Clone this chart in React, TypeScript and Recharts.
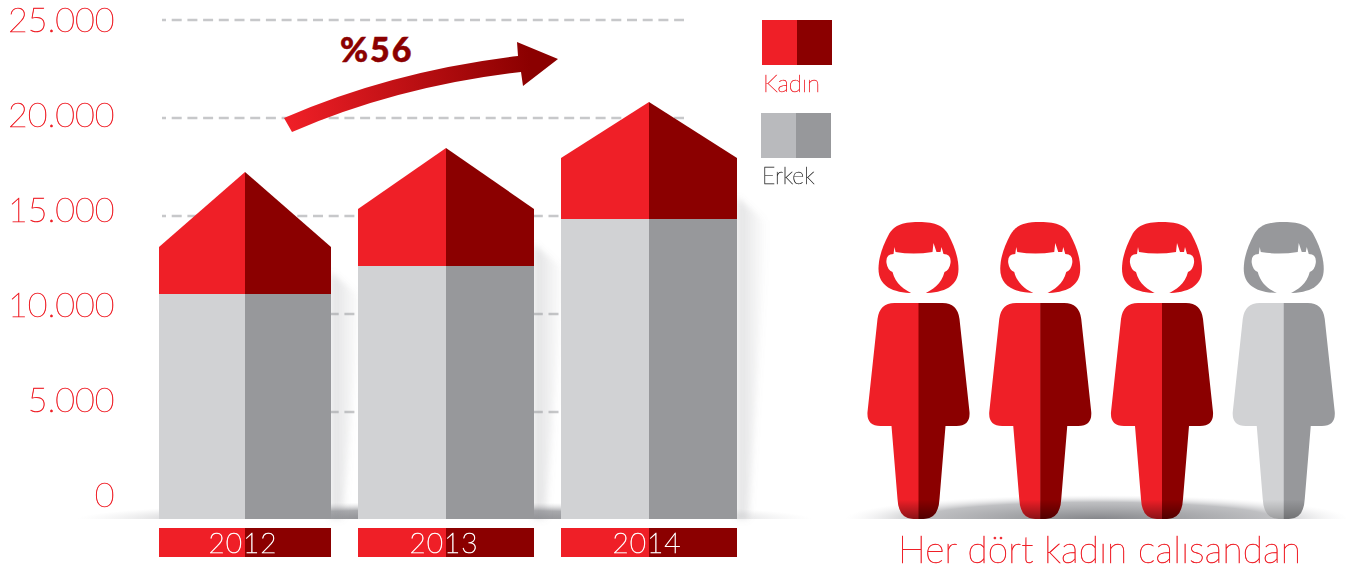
import React from "react";
import { ComposedChart, BarChart, Bar, XAxis, YAxis, CartesianGrid, Legend, Customized } from "recharts";

const years = ["2012", "2013", "2014"];
const erkekValues = [11020, 12450, 14850];
const kadinValues = [6225, 6020, 5970];
const catiValues = [3830, 3110, 2860];
const yTicks = [0, 5000, 10000, 15000, 20000, 25000];
const gridValues = [5000, 10000, 15000, 20000, 25000];
const yTickLabels = ["0", "5.000", "10.000", "15.000", "20.000", "25.000"];
const figureGenders = ["Kadın", "Kadın", "Kadın", "Erkek"];
const figureValues = [1, 1, 1, 1];
const legendNames = ["Kadın", "Erkek"];
const growthLabel = "%56";
const caption = "Her dört kadın calısandan";

const table = years.map((year, i) => ({ year, erkek: erkekValues[i], kadin: kadinValues[i], cati: catiValues[i] }));
const figures = figureGenders.map((gender, i) => ({ id: String(i), gender, value: figureValues[i] }));

const RED = "#EF1F27";
const DARK = "#8B0000";
const LIGHT = "#D1D2D4";
const GRAY = "#97989B";
const FONT = "Lato, sans-serif";
const W = 1346;
const H = 565;
const GRAYSCALE_AA = { opacity: 0.999 };
const tweak = [{ inset: 2, dx: 0 }, { inset: 0, dx: -1 }, { inset: 0, dx: 0 }];

const geom = (p: any) => {
  const t = tweak[p.index] || { inset: 0, dx: 0 };
  const cx = p.x + p.width / 2 + t.dx;
  const half = p.width / 2 - t.inset;
  return { cx, l: cx - half, r: cx + half };
};

const ErkekShape = (p: any) => {
  const { cx, l, r } = geom(p);
  const bottom = p.background ? p.background.y + p.background.height : p.y + p.height + 9;
  return (
    <g>
      <path
        d={`M${r},${p.y - 22} L${r + 30},${p.y + 4} L${r + 12},${bottom} L${r},${bottom} Z`}
        fill="url(#barShadow)"
        filter="url(#blur3)"
      />
      <rect x={l} y={p.y} width={cx - l} height={bottom - p.y} fill={LIGHT} />
      <rect x={cx} y={p.y} width={r - cx} height={bottom - p.y} fill={GRAY} />
    </g>
  );
};

const KadinShape = (p: any) => {
  const { cx, l, r } = geom(p);
  const bottom = p.y + p.height;
  const shoulder = p.y + (p.height * p.payload.cati) / p.payload.kadin;
  return (
    <g>
      <path d={`M${l},${bottom} L${l},${shoulder} L${cx},${p.y} L${cx},${bottom} Z`} fill={RED} />
      <path d={`M${cx},${bottom} L${cx},${p.y} L${r},${shoulder} L${r},${bottom} Z`} fill={DARK} />
    </g>
  );
};

const YearTick = (p: any) => {
  const { cx, l, r } = geom({ x: p.x - 88, width: 176, index: p.index });
  return (
    <g>
      <rect x={l} y={p.y} width={cx - l} height={29} fill={RED} />
      <rect x={cx} y={p.y} width={r - cx} height={29} fill={DARK} />
      <text x={cx - 2} y={p.y + 25} textAnchor="middle" fill="#fff" stroke="#fff" strokeWidth={0.7} fontFamily={FONT} fontWeight={100} fontSize={28} letterSpacing={1} style={GRAYSCALE_AA}>
        {p.payload.value}
      </text>
    </g>
  );
};

const ValueTick = (p: any) => {
  const i = yTicks.indexOf(p.payload.value);
  const labelY = 20 + ((p.y - 20) * 95) / 98;
  return (
    <text x={114.5} y={labelY + 12} textAnchor="end" fill={RED} stroke={RED} strokeWidth={0.55} fontFamily={FONT} fontWeight={100} fontSize={34} style={GRAYSCALE_AA}>
      {yTickLabels[i]}
    </text>
  );
};

const GridDash = (p: any) => (
  <line
    key={p.key}
    x1={162}
    x2={684}
    y1={p.y1}
    y2={p.y2}
    stroke="#C7C8CA"
    strokeWidth={2.5}
    strokeDasharray="10 5.7"
    strokeDashoffset={6}
  />
);

const Defs = () => (
  <defs>
    <linearGradient id="barShadow" x1="0" y1="0" x2="1" y2="0">
      <stop offset="0" stopColor="#8c8d91" stopOpacity={0.26} />
      <stop offset="1" stopColor="#8c8d91" stopOpacity={0} />
    </linearGradient>
    <filter id="blur3" x="-50%" y="-10%" width="200%" height="120%">
      <feGaussianBlur stdDeviation="3" />
    </filter>
    <linearGradient id="arrowGrad" gradientUnits="userSpaceOnUse" x1="285" y1="100" x2="530" y2="60">
      <stop offset="0" stopColor={RED} />
      <stop offset="1" stopColor={DARK} />
    </linearGradient>
    <radialGradient id="floorLeft" gradientUnits="userSpaceOnUse" cx="0" cy="0" r="1" gradientTransform="translate(445 519) scale(368 17)">
      <stop offset="0" stopColor="#86878b" />
      <stop offset="0.55" stopColor="#9a9b9f" stopOpacity={0.85} />
      <stop offset="1" stopColor="#d8d8da" stopOpacity={0} />
    </radialGradient>
    <radialGradient id="floorRight" gradientUnits="userSpaceOnUse" cx="0" cy="0" r="1" gradientTransform="translate(1097 519) scale(252 24)">
      <stop offset="0" stopColor="#85868a" />
      <stop offset="0.7" stopColor="#b4b5b8" stopOpacity={0.85} />
      <stop offset="1" stopColor="#e8e8ea" stopOpacity={0} />
    </radialGradient>
    <linearGradient id="feet" x1="0" y1="0" x2="0" y2="1">
      <stop offset="0.91" stopColor="#000" stopOpacity={0} />
      <stop offset="1" stopColor="#000" stopOpacity={0.42} />
    </linearGradient>
    <linearGradient id="feetSoft" x1="0" y1="0" x2="0" y2="1">
      <stop offset="0.91" stopColor="#000" stopOpacity={0} />
      <stop offset="1" stopColor="#000" stopOpacity={0.25} />
    </linearGradient>
  </defs>
);

const FloorLeft = () => <path d="M77,519 A368,17 0 0 1 813,519 Z" fill="url(#floorLeft)" />;

const Growth = () => (
  <g>
    <path
      d="M284,118 Q392,71 518,56 L517,42 L558,59 L523,86 L521,72 Q398,86 292,132 Z"
      fill="url(#arrowGrad)"
    />
    <text x={340} y={62} fill={DARK} stroke={DARK} strokeWidth={0.5} fontFamily={FONT} fontWeight={900} fontSize={34} letterSpacing={1.9}>
      {growthLabel}
    </text>
  </g>
);

const LegendBox = () => (
  <svg width={90} height={180} style={{ display: "block", overflow: "visible" }}>
    <rect x={1} y={0} width={35} height={45} fill={RED} />
    <rect x={36} y={0} width={35} height={45} fill={DARK} />
    <text x={2} y={72} fill={RED} stroke={RED} strokeWidth={0.45} fontFamily={FONT} fontWeight={100} fontSize={24} style={GRAYSCALE_AA}>
      {legendNames[0]}
    </text>
    <rect x={0} y={93} width={35} height={45} fill="#B9BABD" />
    <rect x={35} y={93} width={35} height={45} fill={GRAY} />
    <text x={1} y={164} fill="#333" stroke="#333" strokeWidth={0.45} fontFamily={FONT} fontWeight={100} fontSize={23} style={GRAYSCALE_AA}>
      {legendNames[1]}
    </text>
  </svg>
);

const bodyLeft = "M0.5,81 L-24,81 Q-39,81 -41,97 L-51,190 Q-52,204 -38,204 L-27,204 L-21,277 Q-20,297 -5,297 L0.5,297 Z";
const bodyRight = "M0,81 L24,81 Q39,81 41,97 L51,190 Q52,204 38,204 L27,204 L21,277 Q20,297 5,297 L0,297 Z";
const bodyFull = "M-24,81 L24,81 Q39,81 41,97 L51,190 Q52,204 38,204 L27,204 L21,277 Q20,297 5,297 L-5,297 Q-20,297 -21,277 L-27,204 L-38,204 Q-52,204 -51,190 L-41,97 Q-39,81 -24,81 Z";
const hair = "M0,0 C-18,0 -25,4 -30,13 C-36,24 -40,36 -40,47 C-40,64 -26,71 -5,71 L5,71 C26,71 40,64 40,47 C40,36 36,24 30,13 C25,4 18,0 0,0 Z";
const face = "M-24,25 L-23,30 Q-5,33 14,30 L15,21 L18,30 L22,30 L23,25 L25,32 Q33,32 32,41 Q31,48 26,50 C23,62 14,68 5,72 L-5,72 C-14,68 -23,62 -26,50 Q-31,48 -32,41 Q-33,32 -25,32 Z";

const FigureShape = (p: any) => {
  const cx = p.x + p.width / 2;
  const s = p.height / 297;
  const woman = p.payload.gender === "Kadın";
  return (
    <g transform={`translate(${cx} ${p.y}) scale(${s})`}>
      <path d={hair} fill={woman ? RED : GRAY} />
      <path d={face} fill="#fff" />
      <path d={bodyLeft} fill={woman ? RED : LIGHT} />
      <path d={bodyRight} fill={woman ? DARK : GRAY} />
      <path d={bodyFull} fill={woman ? "url(#feet)" : "url(#feetSoft)"} />
    </g>
  );
};

const FloorRight = () => <path d="M845,519 A252,24 0 0 1 1349,519 Z" fill="url(#floorRight)" />;

const Caption = () => (
  <text x={898} y={563} fill={RED} stroke={RED} strokeWidth={0.55} fontFamily={FONT} fontWeight={100} fontSize={37} letterSpacing={0.2} style={GRAYSCALE_AA}>
    {caption}
  </text>
);

export default function App() {
  return (
    <div style={{ position: "absolute", left: 0, top: 0, width: W, height: H, background: "#fff", overflow: "hidden" }}>
      <div style={{ position: "absolute", left: 0, top: 0 }}>
        <ComposedChart width={W} height={H} data={table} margin={{ top: 20, right: W - 750, bottom: 0, left: 0 }}>
          <Customized component={Defs} />
          <CartesianGrid vertical={false} horizontal={GridDash as any} horizontalValues={gridValues} />
          <XAxis dataKey="year" axisLine={false} tickLine={false} tickSize={0} tickMargin={9} height={46} interval={0} tick={YearTick as any} />
          <YAxis
            width={144}
            domain={[-459, 25000]}
            ticks={yTicks}
            axisLine={false}
            tickLine={false}
            interval={0}
            tick={ValueTick as any}
          />
          <Bar dataKey="erkek" name="Erkek" stackId="a" barSize={176} isAnimationActive={false} shape={ErkekShape as any} />
          <Bar dataKey="kadin" name="Kadın" stackId="a" barSize={176} isAnimationActive={false} shape={KadinShape as any} />
          <Customized component={FloorLeft} />
          <Customized component={Growth} />
          <Legend layout="vertical" align="center" verticalAlign="middle" wrapperStyle={{ left: 761, top: 20, width: 90 }} content={LegendBox as any} />
        </ComposedChart>
      </div>
      <div style={{ position: "absolute", left: 0, top: 0 }}>
        <BarChart width={W} height={H} data={figures} margin={{ top: 222, right: 1.5, bottom: 46, left: 857.5 }}>
          <Customized component={FloorRight} />
          <XAxis dataKey="id" hide />
          <YAxis hide domain={[0, 1]} />
          <Bar dataKey="value" barSize={104} isAnimationActive={false} shape={FigureShape as any} />
          <Customized component={Caption} />
        </BarChart>
      </div>
    </div>
  );
}
